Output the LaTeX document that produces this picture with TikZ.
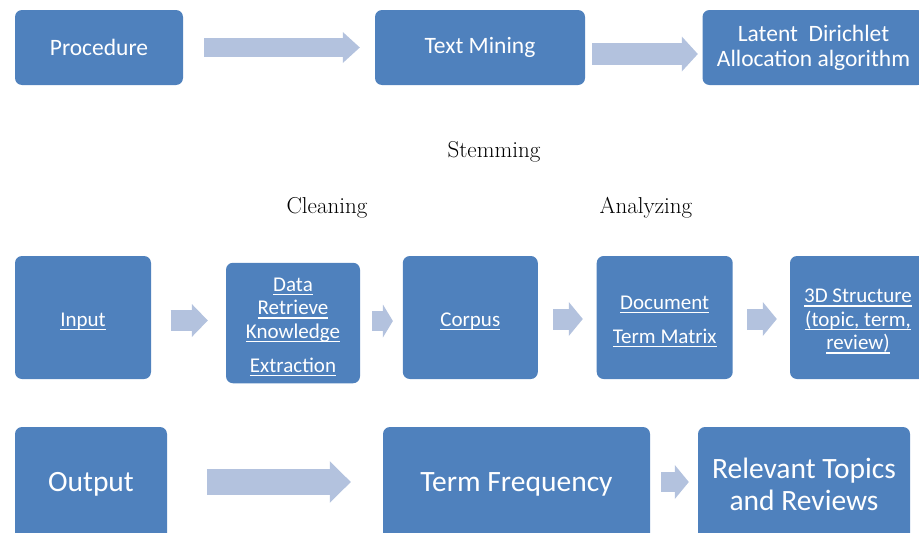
\documentclass[tikz,border=0pt]{standalone}
\usepackage{fontspec}
\usepackage{xcolor}
\newfontfamily\boxfont{Carlito}
\newsavebox\ulnbox
\newcommand\uln[1]{\sbox\ulnbox{#1}\smash{\rlap{\vrule width\wd\ulnbox height-2.6pt depth4.1pt}\usebox\ulnbox}\vrule height17pt depth0pt width0pt}
\usetikzlibrary{arrows.meta}
\definecolor{boxblue}{RGB}{79,129,189}
\definecolor{arrowblue}{RGB}{179,194,222}

\begin{document}
\begin{tikzpicture}[x=1pt,y=-1pt,
  box/.style={fill=boxblue,rounded corners=7pt,text=white,align=center,inner sep=0pt},
  toptext/.style={font=\boxfont\fontsize{23.5}{25}\selectfont},
  midtext/.style={font=\boxfont\fontsize{21}{23.5}\selectfont},
  bigtext/.style={font=\boxfont\fontsize{29.5}{32}\selectfont},
  steplabel/.style={font=\fontsize{23}{26}\selectfont},
  fat/.style n args={3}{draw=arrowblue,line width=#1,-{Triangle[length=#3,width=#2,line width=0pt]}}]
\useasboundingbox (0,0) rectangle (919,533);

\node[box,toptext,minimum width=168pt,minimum height=75pt] (procedure) at (99,47.5) {Procedure};
\node[box,toptext,minimum width=210pt,minimum height=75pt] (mining) at (480,47.5) {Text Mining};
\node[box,toptext,minimum width=222pt,minimum height=75pt] (lda) at (813.5,47.5) {Latent\ \ Dirichlet\\Allocation algorithm};

\node[steplabel] (stemming) at (494,152) {Stemming};
\node[steplabel] (cleaning) at (327,208) {Cleaning};
\node[steplabel] (analyzing) at (646,208) {Analyzing};

\node[box,midtext,minimum width=136pt,minimum height=123pt] (input) at (83,317.5) {\uln{Input}};
\node[box,midtext,minimum width=134pt,minimum height=120.5pt] (retrieve) at (293,323) {\uln{Data}\\\uln{Retrieve}\\\uln{Knowledge}\\[10.5pt]\uln{Extraction}};
\node[box,midtext,minimum width=135pt,minimum height=123pt] (corpus) at (470.3,317.5) {\uln{Corpus}};
\node[box,midtext,minimum width=136pt,minimum height=123pt] (matrix) at (664.7,317.5) {\uln{Document}\\[10.5pt]\uln{Term Matrix}};
\node[box,midtext,minimum width=136pt,minimum height=123pt] (structure) at (858,317.5) {\uln{3D Structure}\\\uln{(topic, term,}\\\uln{review)}};

\node[box,bigtext,minimum width=152pt,minimum height=115pt] (output) at (91,484.5) {Output};
\node[box,bigtext,minimum width=267pt,minimum height=115pt] (frequency) at (516.5,484.5) {Term Frequency};
\node[box,bigtext,minimum width=212pt,minimum height=115pt] (relevant) at (804,484.5) {Relevant Topics\\and Reviews};

\draw[fat={19.6pt}{31pt}{17pt}] ([xshift=21pt]procedure.east) -- ([xshift=-15pt]procedure.east -| mining.west);
\draw[fat={22.3pt}{35pt}{16pt}] ([xshift=7pt,yshift=-6.5pt]mining.east) -- ([xshift=-4.5pt,yshift=-6.5pt]mining.east -| lda.west);
\draw[fat={20.7pt}{33pt}{16pt}] ([xshift=19.5pt,yshift=-3pt]input.east) -- ([xshift=-18pt,yshift=-3pt]input.east -| retrieve.west);
\draw[fat={20pt}{33pt}{10pt}] ([xshift=12pt,yshift=2pt]retrieve.east) -- ([xshift=-9.7pt,yshift=2pt]retrieve.east -| corpus.west);
\draw[fat={21pt}{34pt}{14pt}] ([xshift=15pt,yshift=-1.5pt]corpus.east) -- ([xshift=-13.7pt,yshift=-1.5pt]corpus.east -| matrix.west);
\draw[fat={21pt}{34pt}{14pt}] ([xshift=14.3pt,yshift=-1.5pt]matrix.east) -- ([xshift=-13pt,yshift=-1.5pt]matrix.east -| structure.west);
\draw[fat={25.7pt}{41.6pt}{21pt}] ([xshift=39.7pt,yshift=2.5pt]output.east) -- ([xshift=-32pt,yshift=2.5pt]output.east -| frequency.west);
\draw[fat={20.7pt}{34pt}{14pt}] ([xshift=11pt,yshift=2.5pt]frequency.east) -- ([xshift=-9pt,yshift=2.5pt]frequency.east -| relevant.west);
\end{tikzpicture}
\end{document}
